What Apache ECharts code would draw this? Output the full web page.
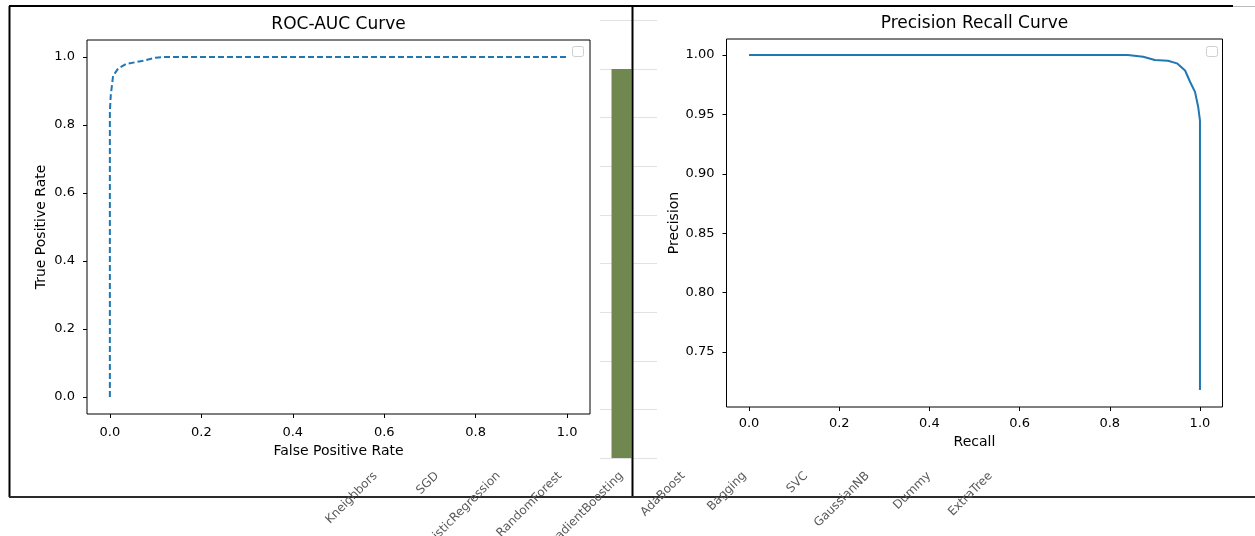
<!DOCTYPE html>
<html>
<head>
<meta charset="utf-8">
<script src="https://cdn.jsdelivr.net/npm/echarts@6/dist/echarts.min.js"></script>
<style>
  html, body { margin: 0; padding: 0; background: #fff; }
  #main { width: 1255px; height: 536px; }
</style>
</head>
<body>
<div id="main"></div>
<script>
// bar chart behind the two panels, only GradientBoosting is visible
const models = ['Kneighbors', 'SGD', 'LogisticRegression', 'RandomForest', 'GradientBoosting', 'AdaBoost', 'Bagging', 'SVC', 'GaussianNB', 'Dummy', 'ExtraTree']
const modelScores = [null, null, null, null, 0.8, null, null, null, null, null, null]

// ROC curve
const rocFpr = [0, 0, 0.002, 0.007, 0.018, 0.036, 0.07, 0.1, 0.12, 1.0]
const rocTpr = [0, 0.84, 0.888, 0.944, 0.966, 0.98, 0.988, 0.998, 1.0, 1.0]

// precision / recall curve
const prRecall = [0, 0.84, 0.874, 0.9, 0.929, 0.949, 0.967, 0.978, 0.989, 0.996, 1.0, 1.0]
const prPrecision = [1.0, 1.0, 0.9986, 0.9958, 0.9952, 0.993, 0.987, 0.9775, 0.969, 0.9565, 0.945, 0.718]

const unitTicks = [0, 0.2, 0.4, 0.6, 0.8, 1.0]
const precisionTicks = [0.75, 0.8, 0.85, 0.9, 0.95, 1.0]

const mplFont = 'DejaVu Sans'
const lineBlue = '#1f77b4'

function zip(a, b) {
  return a.map((v, i) => [v, b[i]])
}

// matplotlib-like value axis
function mplAxis(opt) {
  const ticks = opt.ticks
  const digits = opt.digits
  return {
    type: 'value',
    gridIndex: opt.grid,
    min: opt.min,
    max: opt.max,
    name: opt.name,
    nameLocation: 'middle',
    nameGap: opt.nameGap,
    nameTextStyle: { color: '#000', fontFamily: mplFont, fontSize: 14 },
    axisLine: { show: false, onZero: false },
    axisTick: { show: true, length: 4, customValues: ticks, lineStyle: { color: '#000', width: 1 } },
    axisLabel: {
      customValues: ticks,
      color: '#000',
      fontFamily: mplFont,
      fontSize: 13,
      margin: opt.margin,
      formatter: v => Number(v).toFixed(digits)
    },
    splitLine: { show: false },
    z: 5
  }
}

const chart = echarts.init(document.getElementById('main'))

const option = {
  animation: false,
  backgroundColor: '#fff',
  grid: [
    // background bar chart
    { left: 344.75, right: 233.75, top: 20.5, bottom: 78, containLabel: false, outerBoundsMode: 'none', z: 0 },
    // ROC
    { left: 87, top: 40, width: 503, height: 374, containLabel: false, outerBoundsMode: 'none', show: true, borderColor: '#000', borderWidth: 1, backgroundColor: 'transparent', z: 5 },
    // PR
    { left: 726.5, top: 39, width: 496, height: 368, containLabel: false, outerBoundsMode: 'none', show: true, borderColor: '#000', borderWidth: 1, backgroundColor: 'transparent', z: 5 }
  ],
  xAxis: [
    {
      type: 'category',
      gridIndex: 0,
      data: models,
      axisLine: { show: false },
      axisTick: { show: false },
      axisLabel: { interval: 0, rotate: 45, color: '#595959', fontFamily: mplFont, fontSize: 12, margin: 16 },
      z: 10
    },
    mplAxis({ grid: 1, min: -0.05, max: 1.05, ticks: unitTicks, digits: 1, name: 'False Positive Rate', nameGap: 28, margin: 12 }),
    mplAxis({ grid: 2, min: -0.05, max: 1.05, ticks: unitTicks, digits: 1, name: 'Recall', nameGap: 28, margin: 10 })
  ],
  yAxis: [
    {
      type: 'value',
      gridIndex: 0,
      min: 0,
      max: 0.9,
      interval: 0.1,
      axisLine: { show: false },
      axisTick: { show: false },
      axisLabel: { show: false },
      splitLine: { lineStyle: { color: '#e2e2e2', width: 1 } },
      z: 0
    },
    mplAxis({ grid: 1, min: -0.05, max: 1.05, ticks: unitTicks, digits: 1, name: 'True Positive Rate', nameGap: 39, margin: 12 }),
    mplAxis({ grid: 2, min: 0.7037, max: 1.0135, ticks: precisionTicks, digits: 2, name: 'Precision', nameGap: 45, margin: 12 })
  ],
  series: [
    {
      type: 'bar',
      xAxisIndex: 0,
      yAxisIndex: 0,
      data: modelScores,
      barWidth: 20,
      itemStyle: { color: '#70874f' },
      z: 2
    },
    {
      type: 'line',
      xAxisIndex: 1,
      yAxisIndex: 1,
      data: zip(rocFpr, rocTpr),
      showSymbol: false,
      lineStyle: { color: lineBlue, width: 2, type: [6, 3] },
      z: 6
    },
    {
      type: 'line',
      xAxisIndex: 2,
      yAxisIndex: 2,
      data: zip(prRecall, prPrecision),
      showSymbol: false,
      lineStyle: { color: lineBlue, width: 2 },
      z: 6
    }
  ],
  graphic: [
    // white figure backgrounds of the two panels
    { type: 'rect', z: 3, silent: true, shape: { x: 10, y: 7, width: 590, height: 489 }, style: { fill: '#fff' } },
    { type: 'rect', z: 3, silent: true, shape: { x: 657, y: 7, width: 598, height: 489 }, style: { fill: '#fff' } },
    // outer frame
    { type: 'line', z: 8, silent: true, shape: { x1: 9.5, y1: 6, x2: 9.5, y2: 497 }, style: { stroke: '#000', lineWidth: 2 } },
    { type: 'line', z: 8, silent: true, shape: { x1: 9, y1: 6, x2: 1233, y2: 6 }, style: { stroke: '#000', lineWidth: 2 } },
    { type: 'line', z: 8, silent: true, shape: { x1: 1233, y1: 6.5, x2: 1255, y2: 6.5 }, style: { stroke: '#bbb', lineWidth: 1 } },
    { type: 'line', z: 8, silent: true, shape: { x1: 632.5, y1: 6, x2: 632.5, y2: 497 }, style: { stroke: '#000', lineWidth: 2 } },
    { type: 'line', z: 8, silent: true, shape: { x1: 9, y1: 497, x2: 1255, y2: 497 }, style: { stroke: '#2a2a2a', lineWidth: 2 } },
    // empty legend boxes
    { type: 'rect', z: 7, silent: true, shape: { x: 572.5, y: 46.5, width: 11, height: 10, r: 2 }, style: { fill: '#fff', stroke: '#cfcfcf', lineWidth: 1 } },
    { type: 'rect', z: 7, silent: true, shape: { x: 1206.5, y: 46.5, width: 11, height: 10, r: 2 }, style: { fill: '#fff', stroke: '#cfcfcf', lineWidth: 1 } },
    // titles
    { type: 'text', z: 7, x: 338.5, y: 25, style: { text: 'ROC-AUC Curve', fill: '#000', font: '17px "DejaVu Sans"', textAlign: 'center', textVerticalAlign: 'middle' } },
    { type: 'text', z: 7, x: 974.5, y: 24, style: { text: 'Precision Recall Curve', fill: '#000', font: '17px "DejaVu Sans"', textAlign: 'center', textVerticalAlign: 'middle' } }
  ]
}

chart.setOption(option)
</script>
</body>
</html>
